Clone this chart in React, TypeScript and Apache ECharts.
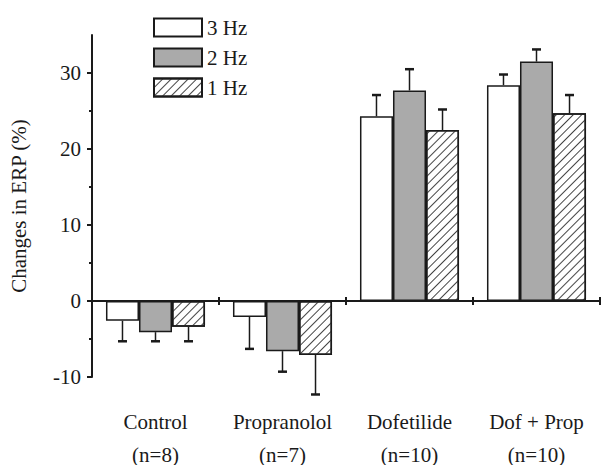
import React, { useEffect, useRef } from "react";
import * as echarts from "echarts";

const categories = ["Control", "Propranolol", "Dofetilide", "Dof + Prop"];
const sampleSizes = ["(n=8)", "(n=7)", "(n=10)", "(n=10)"];
const seriesNames = ["3 Hz", "2 Hz", "1 Hz"];
const hz3 = [-2.6, -2.1, 24.3, 28.4];
const hz3Err = [2.7, 4.2, 2.8, 1.4];
const hz2 = [-4.1, -6.6, 27.7, 31.5];
const hz2Err = [1.2, 2.7, 2.8, 1.6];
const hz1 = [-3.4, -7.1, 22.5, 24.7];
const hz1Err = [1.9, 5.2, 2.7, 2.4];
const majorTicks = [-10, 0, 10, 20, 30];
const minorTicks = [-5, 5, 15, 25];

const FONT = '"Liberation Serif", "Times New Roman", serif';
const INK = "#1a1a1a";
const BAR_FRAC = 0.26;

export default function App() {
  const ref = useRef<HTMLDivElement>(null);
  useEffect(() => {
    if (!ref.current) return;
    const chart = echarts.init(ref.current, undefined, { renderer: "svg" });
    const values = [hz3, hz2, hz1];
    const errs = [hz3Err, hz2Err, hz1Err];
    const styles = [
      { color: "#ffffff" },
      { color: "#aaaaaa" },
      {
        color: "#ffffff",
        decal: {
          symbol: "rect",
          symbolSize: 1,
          color: "#444444",
          dashArrayX: [1, 0],
          dashArrayY: [1, 4.2],
          rotation: -Math.PI / 4,
        },
      },
    ];
    const barSeries = seriesNames.map((name, s) => ({
      name,
      type: "bar",
      xAxisIndex: 0,
      yAxisIndex: 0,
      data: values[s],
      barWidth: BAR_FRAC * 100 + "%",
      barGap: "0%",
      itemStyle: { ...styles[s], borderColor: INK, borderWidth: 1.5 },
      z: 2,
    }));
    const errSeries = seriesNames.map((name, s) => ({
      type: "custom",
      name: name + " err",
      xAxisIndex: 0,
      yAxisIndex: 0,
      data: values[s].map((v, i) => [i, v, errs[s][i]]),
      encode: { x: 0, y: 1 },
      clip: false,
      z: 5,
      renderItem: (params: any, api: any) => {
        const i = api.value(0);
        const v = api.value(1);
        const e = api.value(2);
        const end = v >= 0 ? v + e : v - e;
        const p0 = api.coord([i, v]);
        const p1 = api.coord([i, end]);
        const bw = api.size([1, 0])[0] * BAR_FRAC;
        const x = p0[0] + (s - 1) * bw;
        const st = { stroke: INK, lineWidth: 1.5 };
        return {
          type: "group",
          children: [
            { type: "line", shape: { x1: x, y1: p0[1], x2: x, y2: p1[1] }, style: st },
            { type: "line", shape: { x1: x - 4.5, y1: p1[1], x2: x + 4.5, y2: p1[1] }, style: { stroke: INK, lineWidth: 2.5 } },
          ],
        };
      },
    }));
    chart.setOption({
      animation: false,
      textStyle: { fontFamily: FONT, color: INK },
      grid: { left: 92, right: 1, top: 35, bottom: 88, outerBoundsMode: "none", containLabel: false },
      legend: {
        orient: "vertical",
        left: 153,
        top: 17,
        padding: 0,
        itemWidth: 48,
        itemHeight: 18,
        itemGap: 9,
        icon: "rect",
        data: seriesNames,
        textStyle: { fontFamily: FONT, fontSize: 21, color: INK },
      },
      xAxis: [
        {
          type: "category",
          data: categories,
          axisLine: { onZero: true, lineStyle: { color: INK, width: 2 } },
          axisTick: { show: true, interval: 0, length: 4, lineStyle: { color: INK, width: 2 } },
          axisLabel: { show: false },
        },
        {
          type: "category",
          position: "top",
          data: categories,
          axisLine: { show: false, onZero: true },
          axisTick: { show: true, inside: false, interval: 0, length: 4, lineStyle: { color: INK, width: 2 } },
          axisLabel: { show: false },
        },
        {
          type: "category",
          position: "bottom",
          data: categories.map((c, i) => c + "\n" + sampleSizes[i]),
          axisLine: { show: false, onZero: false },
          axisTick: { show: false },
          axisLabel: {
            interval: 0,
            margin: 28,
            fontFamily: FONT,
            fontSize: 21,
            lineHeight: 33,
            color: INK,
          },
        },
      ],
      yAxis: [
        {
          type: "value",
          position: "left",
          min: -10,
          max: 35,
          name: "Changes in ERP (%)",
          nameLocation: "middle",
          nameGap: 63,
          nameTextStyle: { fontFamily: FONT, fontSize: 21, color: INK },
          axisLine: { show: true, lineStyle: { color: INK, width: 2 } },
          axisTick: { show: true, length: 5, customValues: majorTicks, lineStyle: { color: INK, width: 2 } },
          axisLabel: { customValues: majorTicks, margin: 11, fontFamily: FONT, fontSize: 21, color: INK },
          splitLine: { show: false },
        },
        {
          type: "value",
          position: "left",
          offset: 0,
          min: -10,
          max: 35,
          axisLine: { show: false },
          axisTick: { show: true, length: 3, customValues: minorTicks, lineStyle: { color: INK, width: 2 } },
          axisLabel: { show: false },
          splitLine: { show: false },
        },
      ],
      series: [...barSeries, ...errSeries],
    });
    return () => chart.dispose();
  }, []);
  return <div ref={ref} style={{ width: 601, height: 465, position: "absolute", left: 0, top: 0 }} />;
}
